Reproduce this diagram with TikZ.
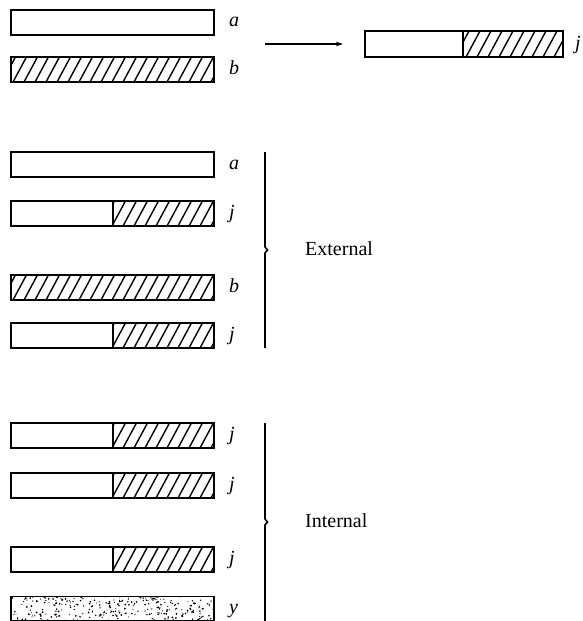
\documentclass[tikz,border=0pt]{standalone}
\usepackage{fontspec}
\setmainfont{Liberation Serif}
\usetikzlibrary{arrows.meta}
\begin{document}
\begin{tikzpicture}[x=1pt,y=-1pt,
  bar/.style={draw, line width=1.7pt, minimum width=203pt, minimum height=25pt,
    inner sep=0pt, outer sep=0pt, anchor=north west},
  hatchline/.style={line width=1.4pt},
  fullhatch/.style={path picture={
    \foreach \i in {-20,-9,...,225}
      \draw[hatchline] ([xshift=\i pt]path picture bounding box.south west) -- ++(14pt,26pt);
  }},
  halfhatch/.style={path picture={
    \begin{scope}
      \clip ([xshift=#1]path picture bounding box.south west) rectangle (path picture bounding box.north east);
      \foreach \i in {-20,-9,...,225}
        \draw[hatchline] ([xshift=\i pt]path picture bounding box.south west) -- ++(14pt,26pt);
    \end{scope}
    \draw[line width=1.7pt] ([xshift=#1]path picture bounding box.south west) -- ([xshift=#1]path picture bounding box.north west);
  }},
  stipple/.style={path picture={
    \pgfmathsetseed{4711}
    \foreach \k in {1,...,300}{
      \pgfmathsetmacro\px{rnd*203}
      \pgfmathsetmacro\py{rnd*25}
      \pgfmathsetmacro\pr{0.5+rnd*0.5}
      \fill ([shift={(\px pt,\py pt)}]path picture bounding box.south west) circle (\pr pt);
    }
  }},
  lab/.style={anchor=base west, inner sep=0pt, font=\fontsize{20}{24}\selectfont\itshape},
  word/.style={anchor=base west, inner sep=0pt, font=\fontsize{20}{24}\selectfont},
  bracel/.style={line width=1.6pt},
  arrowl/.style={line width=1.2pt, -{Stealth[length=7pt,width=4.5pt]}}
]
\useasboundingbox (0,0) rectangle (583,621);

% Section 1
\node[bar] (A1) at (11,10) {};
\node[bar, fullhatch] (B1) at (11,57) {};
\node[lab] (lA1) at (229,27) {a};
\node[lab] (lB1) at (229,74) {b};
\node[bar, minimum width=198pt, minimum height=26pt, halfhatch=98pt] (J0) at (365,31) {};
\node[lab] (lJ0) at (575,49) {j};
\coordinate (arS) at (265,44);
\draw[arrowl] (arS) -- ([xshift=-22pt]J0.west);

% Section 2
\node[bar] (A2) at (11,152) {};
\node[bar, halfhatch=102pt] (J1) at (11,201) {};
\node[bar, fullhatch] (B2) at (11,275) {};
\node[bar, halfhatch=102pt] (J2) at (11,323) {};
\node[lab] (lA2) at (229,169.5) {a};
\node[lab] (lJ1) at (229,218.5) {j};
\node[lab] (lB2) at (229,292.5) {b};
\node[lab] (lJ2) at (229,340.5) {j};
\coordinate (br1t) at (265,152);
\coordinate (br1b) at (265,348);
\draw[bracel] (br1t) -- (265,247) -- (267.5,250) -- (265,253) -- (br1b);
\node[word] (ext) at (305,255) {External};

% Section 3
\node[bar, halfhatch=102pt] (J3) at (11,423) {};
\node[bar, halfhatch=102pt] (J4) at (11,473) {};
\node[bar, halfhatch=102pt] (J5) at (11,547) {};
\node[bar, stipple, minimum height=24pt] (Y) at (11,596.5) {};
\node[lab] (lJ3) at (229,440.5) {j};
\node[lab] (lJ4) at (229,490.5) {j};
\node[lab] (lJ5) at (229,564.5) {j};
\node[lab] (lY) at (229,613.5) {y};
\coordinate (br2t) at (265,423);
\coordinate (br2b) at (265,622);
\draw[bracel] (br2t) -- (265,519) -- (267.5,522) -- (265,525) -- (br2b);
\node[word] (int) at (305,527) {Internal};
\end{tikzpicture}
\end{document}
